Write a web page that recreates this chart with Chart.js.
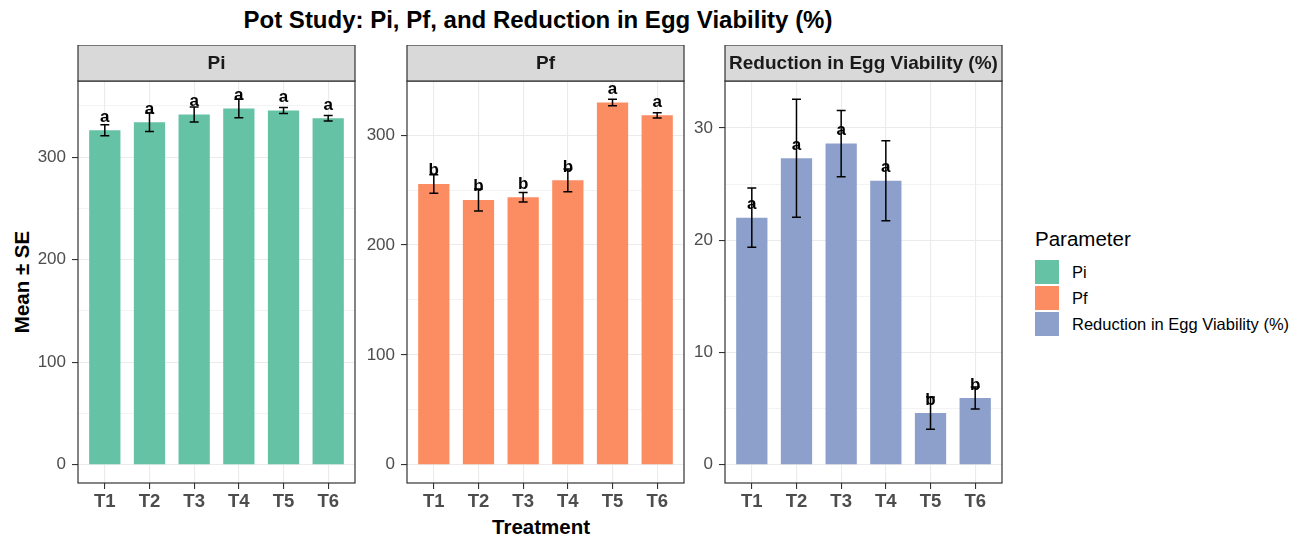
<!DOCTYPE html>
<html>
<head>
<meta charset="utf-8">
<script src="https://cdn.jsdelivr.net/npm/chart.js@4/dist/chart.umd.min.js"></script>
<style>
  body { margin: 0; background: #fff; font-family: "Liberation Sans", Arial, sans-serif; }
  #wrap { position: relative; width: 1311px; height: 537px; overflow: hidden; }
  canvas { position: absolute; }
  .txt { position: absolute; line-height: 1; white-space: nowrap; color: #000; }
  .key { position: absolute; width: 24px; height: 24px; }
</style>
</head>
<body>
<div id="wrap">
  <div class="txt" style="left:538px; top:20px; transform:translate(-50%,-50%); font-size:24px; font-weight:bold;">Pot Study: Pi, Pf, and Reduction in Egg Viability (%)</div>
  <div class="txt" style="left:22px; top:282px; transform:translate(-50%,-50%) rotate(-90deg); font-size:20.5px; font-weight:bold;">Mean ± SE</div>
  <div class="txt" style="left:541px; top:527px; transform:translate(-50%,-50%); font-size:20.5px; font-weight:bold;">Treatment</div>
  <div class="txt" style="left:1035px; top:239px; transform:translateY(-50%); font-size:20.5px;">Parameter</div>
  <div id="legend"></div>
  <canvas id="c1" width="340" height="478" style="left:18px; top:45px;"></canvas>
  <canvas id="c2" width="340" height="478" style="left:347px; top:45px;"></canvas>
  <canvas id="c3" width="340" height="478" style="left:665px; top:45px;"></canvas>
</div>
<script>
// データ
var treatments = ["T1", "T2", "T3", "T4", "T5", "T6"];
var parameters = ["Pi", "Pf", "Reduction in Egg Viability (%)"];
var colors = ["#66C2A5", "#FC8D62", "#8DA0CB"];

var piMean = [326.2, 334.1, 341.6, 347.5, 345.5, 338.0];
var piSE = [5.4, 9.1, 7.3, 9.0, 2.9, 2.6];
var piLetters = ["a", "a", "a", "a", "a", "a"];

var pfMean = [255.5, 241.0, 243.4, 258.8, 329.7, 318.0];
var pfSE = [8.4, 10.0, 4.4, 10.4, 2.9, 2.4];
var pfLetters = ["b", "b", "b", "b", "a", "a"];

var revMean = [22.0, 27.3, 28.6, 25.3, 4.6, 5.94];
var revSE = [2.64, 5.25, 2.95, 3.56, 1.43, 0.98];
var revLetters = ["a", "a", "a", "a", "b", "b"];

var FONT = '"Liberation Sans", Arial, sans-serif';

// 凡例
var legend = document.getElementById("legend");
parameters.forEach(function (p, i) {
    var top = 259.5 + i * 26.2;
    var k = document.createElement("div");
    k.className = "key";
    k.style.left = "1035px";
    k.style.top = top + "px";
    k.style.background = colors[i];
    legend.appendChild(k);
    var t = document.createElement("div");
    t.className = "txt";
    t.style.left = "1072px";
    t.style.top = (top + 12) + "px";
    t.style.transform = "translateY(-50%)";
    t.style.fontSize = "16.5px";
    t.textContent = p;
    legend.appendChild(t);
});

// ストリップ・枠・エラーバー・文字
var panelDeco = {
    id: "panelDeco",
    afterDatasetsDraw: function (chart, args, opts) {
        var ctx = chart.ctx;
        var x = chart.scales.x, y = chart.scales.y;
        var pts = chart.data.datasets[0].data;
        ctx.save();
        ctx.strokeStyle = "#000";
        ctx.lineWidth = 1.5;
        pts.forEach(function (p, i) {
            var xc = x.getPixelForValue(p.x);
            var xl = x.getPixelForValue(p.x - 0.1);
            var xr = x.getPixelForValue(p.x + 0.1);
            var yt = y.getPixelForValue(p.y + opts.se[i]);
            var yb = y.getPixelForValue(p.y - opts.se[i]);
            ctx.beginPath();
            ctx.moveTo(xc, yt); ctx.lineTo(xc, yb);
            ctx.moveTo(xl, yt); ctx.lineTo(xr, yt);
            ctx.moveTo(xl, yb); ctx.lineTo(xr, yb);
            ctx.stroke();
        });
        ctx.fillStyle = "#000";
        ctx.font = "bold 17px " + FONT;
        ctx.textAlign = "center";
        ctx.textBaseline = "alphabetic";
        pts.forEach(function (p, i) {
            ctx.fillText(opts.letters[i], x.getPixelForValue(p.x), y.getPixelForValue(p.y) - 8.5);
        });
        ctx.restore();
    },
    afterDraw: function (chart, args, opts) {
        var ctx = chart.ctx;
        var a = chart.chartArea;
        ctx.save();
        ctx.strokeStyle = "#333333";
        ctx.lineWidth = 1.2;
        ctx.strokeRect(a.left, a.top, a.right - a.left, a.bottom - a.top);
        ctx.fillStyle = "#D9D9D9";
        ctx.fillRect(a.left, a.top - 36, a.right - a.left, 36);
        ctx.strokeRect(a.left, a.top - 36, a.right - a.left, 36);
        ctx.fillStyle = "#1A1A1A";
        ctx.font = "bold 19px " + FONT;
        ctx.textAlign = "center";
        ctx.textBaseline = "middle";
        ctx.fillText(opts.title, (a.left + a.right) / 2, a.top - 17);
        ctx.restore();
    }
};

function makePanel(id, title, means, ses, letters, color, major) {
    var data = means.map(function (m, i) { return { x: i + 1, y: m }; });
    var hi = Math.max.apply(null, means.map(function (m, i) { return m + ses[i]; }));
    var ctx = document.getElementById(id);
    return new Chart(ctx, {
        type: "bar",
        data: {
            datasets: [{
                data: data,
                backgroundColor: color,
                barPercentage: 0.7,
                categoryPercentage: 1.0
            }]
        },
        plugins: [panelDeco],
        options: {
            responsive: false,
            animation: false,
            layout: { padding: { top: 36, right: 3, left: 0, bottom: 0 } },
            plugins: {
                legend: { display: false },
                tooltip: { enabled: false },
                panelDeco: { title: title, se: ses, letters: letters }
            },
            scales: {
                x: {
                    type: "linear",
                    min: 0.4,
                    max: 6.6,
                    offset: false,
                    afterFit: function (s) { s.height = 40; },
                    border: { display: false },
                    grid: { offset: false, color: "#EBEBEB", lineWidth: 1.1, tickColor: "#333333", tickLength: 6 },
                    ticks: {
                        stepSize: 1,
                        includeBounds: false,
                        autoSkip: false,
                        maxRotation: 0,
                        padding: 2,
                        color: "#4D4D4D",
                        font: { family: FONT, size: 18.5, weight: "bold" },
                        callback: function (v) { return treatments[v - 1]; }
                    }
                },
                y: {
                    min: -0.05 * hi,
                    max: 1.05 * hi,
                    afterFit: function (s) { s.width = 60; },
                    border: { display: false },
                    grid: {
                        color: "#EBEBEB",
                        lineWidth: function (c) { return c.tick && c.tick.value % major === 0 ? 1.1 : 0.6; },
                        tickColor: function (c) { return c.tick && c.tick.value % major === 0 ? "#333333" : "rgba(0,0,0,0)"; },
                        tickLength: 6
                    },
                    ticks: {
                        stepSize: major / 2,
                        includeBounds: false,
                        autoSkip: false,
                        padding: 6,
                        color: "#4D4D4D",
                        font: { family: FONT, size: 17 },
                        callback: function (v) { return v % major === 0 ? v : ""; }
                    }
                }
            }
        }
    });
}

makePanel("c1", parameters[0], piMean, piSE, piLetters, colors[0], 100);
makePanel("c2", parameters[1], pfMean, pfSE, pfLetters, colors[1], 100);
makePanel("c3", parameters[2], revMean, revSE, revLetters, colors[2], 10);
</script>
</body>
</html>
